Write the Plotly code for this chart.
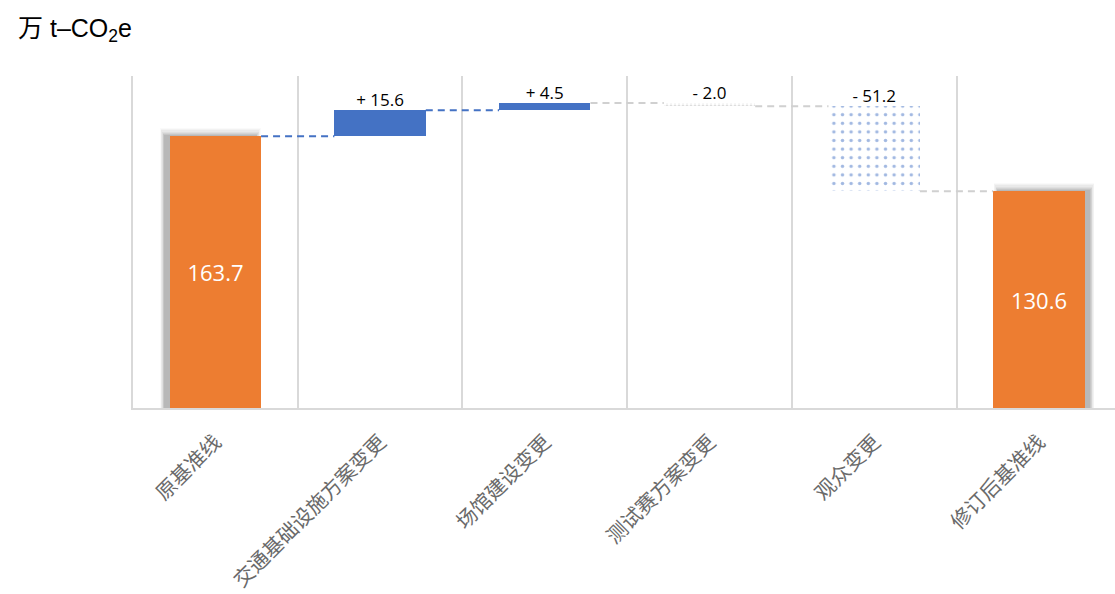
import plotly.graph_objects as go

categories = ["原基准线", "交通基础设施方案变更", "场馆建设变更", "测试赛方案变更", "观众变更", "修订后基准线"]
start_total = 163.7
changes = [15.6, 4.5, -2.0, -51.2]
end_total = 130.6

ORANGE = "#ED7D31"
BLUE = "#4472C4"
GRID = "#D9D9D9"
BAR_W = 0.555

# cumulative levels
levels = [start_total]
for c in changes:
    levels.append(round(levels[-1] + c, 1))

fig = go.Figure()

# soft shadow behind the total bars
tot_x = [0, len(categories) - 1]
tot_y = [start_total, end_total]
shifts = [-1, 1]
alphas = [0.02, 0.03, 0.035, 0.04, 0.05, 0.06, 0.07]
n = len(alphas)
for k, a in enumerate(alphas):
    grow = (n - k) * 0.008
    fig.add_trace(go.Bar(
        x=[tot_x[i] + shifts[i] * 0.03 for i in range(2)],
        y=[v + (n - k) * 0.7 for v in tot_y],
        width=BAR_W + grow,
        marker=dict(color=f"rgba(0,0,0,{a})", line=dict(width=0)),
        hoverinfo="skip", showlegend=False,
    ))

# total bars
fig.add_trace(go.Bar(
    x=tot_x, y=tot_y, width=BAR_W,
    marker=dict(color=ORANGE, line=dict(width=0)),
    text=[f"{v:.1f}" for v in tot_y], textposition="inside", insidetextanchor="middle",
    textfont=dict(color="white", size=22, family="Open Sans"),
    showlegend=False,
))

# change bars
for i, c in enumerate(changes):
    x = i + 1
    if c > 0:
        marker = dict(color=BLUE, line=dict(width=0))
    elif abs(c) < 5:
        marker = dict(color="rgba(0,0,0,0)", line=dict(width=0),
                      pattern=dict(shape=".", fgcolor="#BDBDBD", bgcolor="white", size=4, solidity=0.4))
    else:
        marker = dict(color="rgba(0,0,0,0)", line=dict(width=0),
                      pattern=dict(shape=".", fgcolor=BLUE, bgcolor="white", size=8.6, solidity=0.13))
    fig.add_trace(go.Bar(x=[x], y=[c], base=[levels[i]], width=BAR_W, marker=marker, showlegend=False))
    top = max(levels[i], levels[i] + c)
    label = f"{'+' if c > 0 else '-'} {abs(c):.1f}"
    fig.add_trace(go.Scatter(x=[x], y=[top], mode="text", text=[label], textposition="top center",
                             textfont=dict(size=17, color="black", family="Open Sans"), showlegend=False))

# connectors
conn_colors = [BLUE, BLUE, "#D0D0D0", "#D0D0D0", "#D0D0D0"]
for i, lv in enumerate(levels):
    fig.add_trace(go.Scatter(
        x=[i + BAR_W / 2, i + 1 - BAR_W / 2], y=[lv, lv], mode="lines",
        line=dict(color=conn_colors[i], width=2, dash="7px,5px"),
        showlegend=False, hoverinfo="skip",
    ))

fig.update_layout(
    width=1115, height=594,
    margin=dict(l=133, r=0, t=76, b=186),
    plot_bgcolor="white", paper_bgcolor="white",
    barmode="overlay", bargap=0,
    title=dict(text="万 t–CO<sub>2</sub>e", x=18 / 1115, xanchor="left", xref="container",
               y=1 - 28 / 594, yanchor="middle", yref="container",
               font=dict(size=25, color="black", family="Liberation Sans, Noto Sans CJK SC")),
    xaxis=dict(
        range=[-0.5, 5.462], tickmode="array", tickvals=list(range(len(categories))),
        ticktext=categories, tickangle=-45, showgrid=False, zeroline=False, automargin=False,
        ticks="outside", ticklen=12, tickcolor="rgba(0,0,0,0)",
        tickfont=dict(size=20.5, color="#6A6A6A", family="Noto Sans CJK SC"),
        showline=True, linecolor=GRID, linewidth=2,
        minor=dict(tickmode="array", tickvals=[i + 0.5 for i in range(len(categories))],
                   showgrid=True, gridcolor=GRID, gridwidth=2, ticks=""),
    ),
    yaxis=dict(range=[0, 200], showticklabels=False, showgrid=False, zeroline=False, automargin=False,
               showline=True, linecolor=GRID, linewidth=2, ticks=""),
)

fig.write_html("out.html")
